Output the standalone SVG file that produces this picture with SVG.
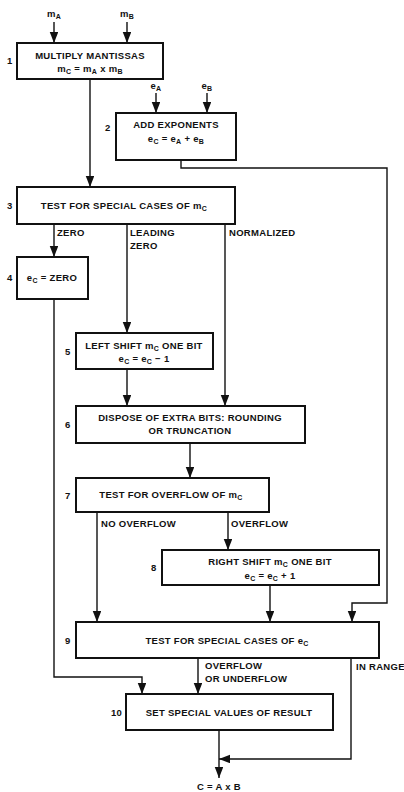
<svg xmlns="http://www.w3.org/2000/svg" width="404" height="792" viewBox="0 0 404 792">
  <style>
    text { font-family: "Liberation Sans", Arial, sans-serif; font-weight: bold; font-size: 9.5px; letter-spacing: 0.3px; fill: #111; }
    .c { text-anchor: middle; }
    .sub { font-size: 7px; }
    .box { fill: #fff; stroke: #111; stroke-width: 2; }
    .wire { fill: none; stroke: #111; stroke-width: 1.4; }
  </style>
  <defs>
    <marker id="arrow" markerUnits="userSpaceOnUse" markerWidth="11" markerHeight="9" refX="11" refY="4.25" orient="auto">
      <path d="M0,0 L11,4.25 L0,8.5 z" fill="#111"/>
    </marker>
  </defs>
  <rect width="404" height="792" fill="#fff"/>

  <!-- connectors -->
  <g id="connectors" class="wire" marker-end="url(#arrow)">
    <path d="M54,22 V43"/>
    <path d="M127,22 V43"/>
    <path d="M156,93 V113"/>
    <path d="M207,93 V113"/>
    <path d="M90,79 V187"/>
    <path d="M181,160 V168 H387 V603 H352 V622"/>
    <path d="M54,224 V257"/>
    <path d="M127,224 V333"/>
    <path d="M225,224 V406"/>
    <path d="M54,299 V677 H142 V694"/>
    <path d="M127,369 V406"/>
    <path d="M190,443 V478"/>
    <path d="M97,512 V622"/>
    <path d="M228,512 V550"/>
    <path d="M270,585 V622"/>
    <path d="M198,658 V694"/>
    <path d="M351,658 V759 H219"/>
    <path d="M219,730 V778"/>
  </g>

  <!-- inputs and output -->
  <g id="inputs">
    <text class="c" x="54" y="17">m<tspan class="sub" dy="2">A</tspan></text>
    <text class="c" x="127" y="17">m<tspan class="sub" dy="2">B</tspan></text>
    <text class="c" x="156" y="89">e<tspan class="sub" dy="2">A</tspan></text>
    <text class="c" x="207" y="89">e<tspan class="sub" dy="2">B</tspan></text>
  </g>
  <g id="output">
    <text class="c" x="219" y="790">C = A x B</text>
  </g>

  <!-- branch labels -->
  <g id="branch-labels">
    <text x="57" y="236">ZERO</text>
    <text x="130" y="236">LEADING</text>
    <text x="130" y="249">ZERO</text>
    <text x="229" y="236">NORMALIZED</text>
    <text x="101" y="527">NO OVERFLOW</text>
    <text x="231" y="527">OVERFLOW</text>
    <text x="205" y="669">OVERFLOW</text>
    <text x="205" y="682">OR UNDERFLOW</text>
    <text x="356" y="670">IN RANGE</text>
  </g>

  <!-- steps -->
  <g id="step1">
    <rect class="box" x="17" y="43" width="146" height="36"/>
    <text x="7" y="64">1</text>
    <text class="c" x="90" y="59">MULTIPLY MANTISSAS</text>
    <text class="c" x="90" y="72">m<tspan class="sub" dy="2">C</tspan><tspan dy="-2"> = m</tspan><tspan class="sub" dy="2">A</tspan><tspan dy="-2"> x m</tspan><tspan class="sub" dy="2">B</tspan></text>
  </g>

  <g id="step2">
    <rect class="box" x="116" y="113" width="120" height="47"/>
    <text x="105" y="131">2</text>
    <text class="c" x="176" y="128">ADD EXPONENTS</text>
    <text class="c" x="176" y="142">e<tspan class="sub" dy="2">C</tspan><tspan dy="-2"> = e</tspan><tspan class="sub" dy="2">A</tspan><tspan dy="-2"> + e</tspan><tspan class="sub" dy="2">B</tspan></text>
  </g>

  <g id="step3">
    <rect class="box" x="17" y="187" width="218" height="37"/>
    <text x="7" y="209">3</text>
    <text class="c" x="124" y="209">TEST FOR SPECIAL CASES OF m<tspan class="sub" dy="2">C</tspan></text>
  </g>

  <g id="step4">
    <rect class="box" x="17" y="257" width="71" height="42"/>
    <text x="7" y="281">4</text>
    <text class="c" x="52" y="281">e<tspan class="sub" dy="2">C</tspan><tspan dy="-2"> = ZERO</tspan></text>
  </g>

  <g id="step5">
    <rect class="box" x="76" y="333" width="137" height="36"/>
    <text x="65" y="355">5</text>
    <text class="c" x="144" y="349">LEFT SHIFT m<tspan class="sub" dy="2">C</tspan><tspan dy="-2"> ONE BIT</tspan></text>
    <text class="c" x="144" y="362">e<tspan class="sub" dy="2">C</tspan><tspan dy="-2"> = e</tspan><tspan class="sub" dy="2">C</tspan><tspan dy="-2"> − 1</tspan></text>
  </g>

  <g id="step6">
    <rect class="box" x="76" y="406" width="229" height="37"/>
    <text x="65" y="428">6</text>
    <text class="c" x="190" y="421">DISPOSE OF EXTRA BITS: ROUNDING</text>
    <text class="c" x="190" y="434">OR TRUNCATION</text>
  </g>

  <g id="step7">
    <rect class="box" x="76" y="478" width="193" height="34"/>
    <text x="65" y="499">7</text>
    <text class="c" x="171" y="498">TEST FOR OVERFLOW OF m<tspan class="sub" dy="2">C</tspan></text>
  </g>

  <g id="step8">
    <rect class="box" x="162" y="550" width="217" height="35"/>
    <text x="151" y="571">8</text>
    <text class="c" x="270" y="565">RIGHT SHIFT m<tspan class="sub" dy="2">C</tspan><tspan dy="-2"> ONE BIT</tspan></text>
    <text class="c" x="270" y="579">e<tspan class="sub" dy="2">C</tspan><tspan dy="-2"> = e</tspan><tspan class="sub" dy="2">C</tspan><tspan dy="-2"> + 1</tspan></text>
  </g>

  <g id="step9">
    <rect class="box" x="76" y="622" width="303" height="36"/>
    <text x="65" y="644">9</text>
    <text class="c" x="227" y="644">TEST FOR SPECIAL CASES OF e<tspan class="sub" dy="2">C</tspan></text>
  </g>

  <g id="step10">
    <rect class="box" x="126" y="694" width="207" height="36"/>
    <text x="111" y="716">10</text>
    <text class="c" x="229" y="716">SET SPECIAL VALUES OF RESULT</text>
  </g>
</svg>
